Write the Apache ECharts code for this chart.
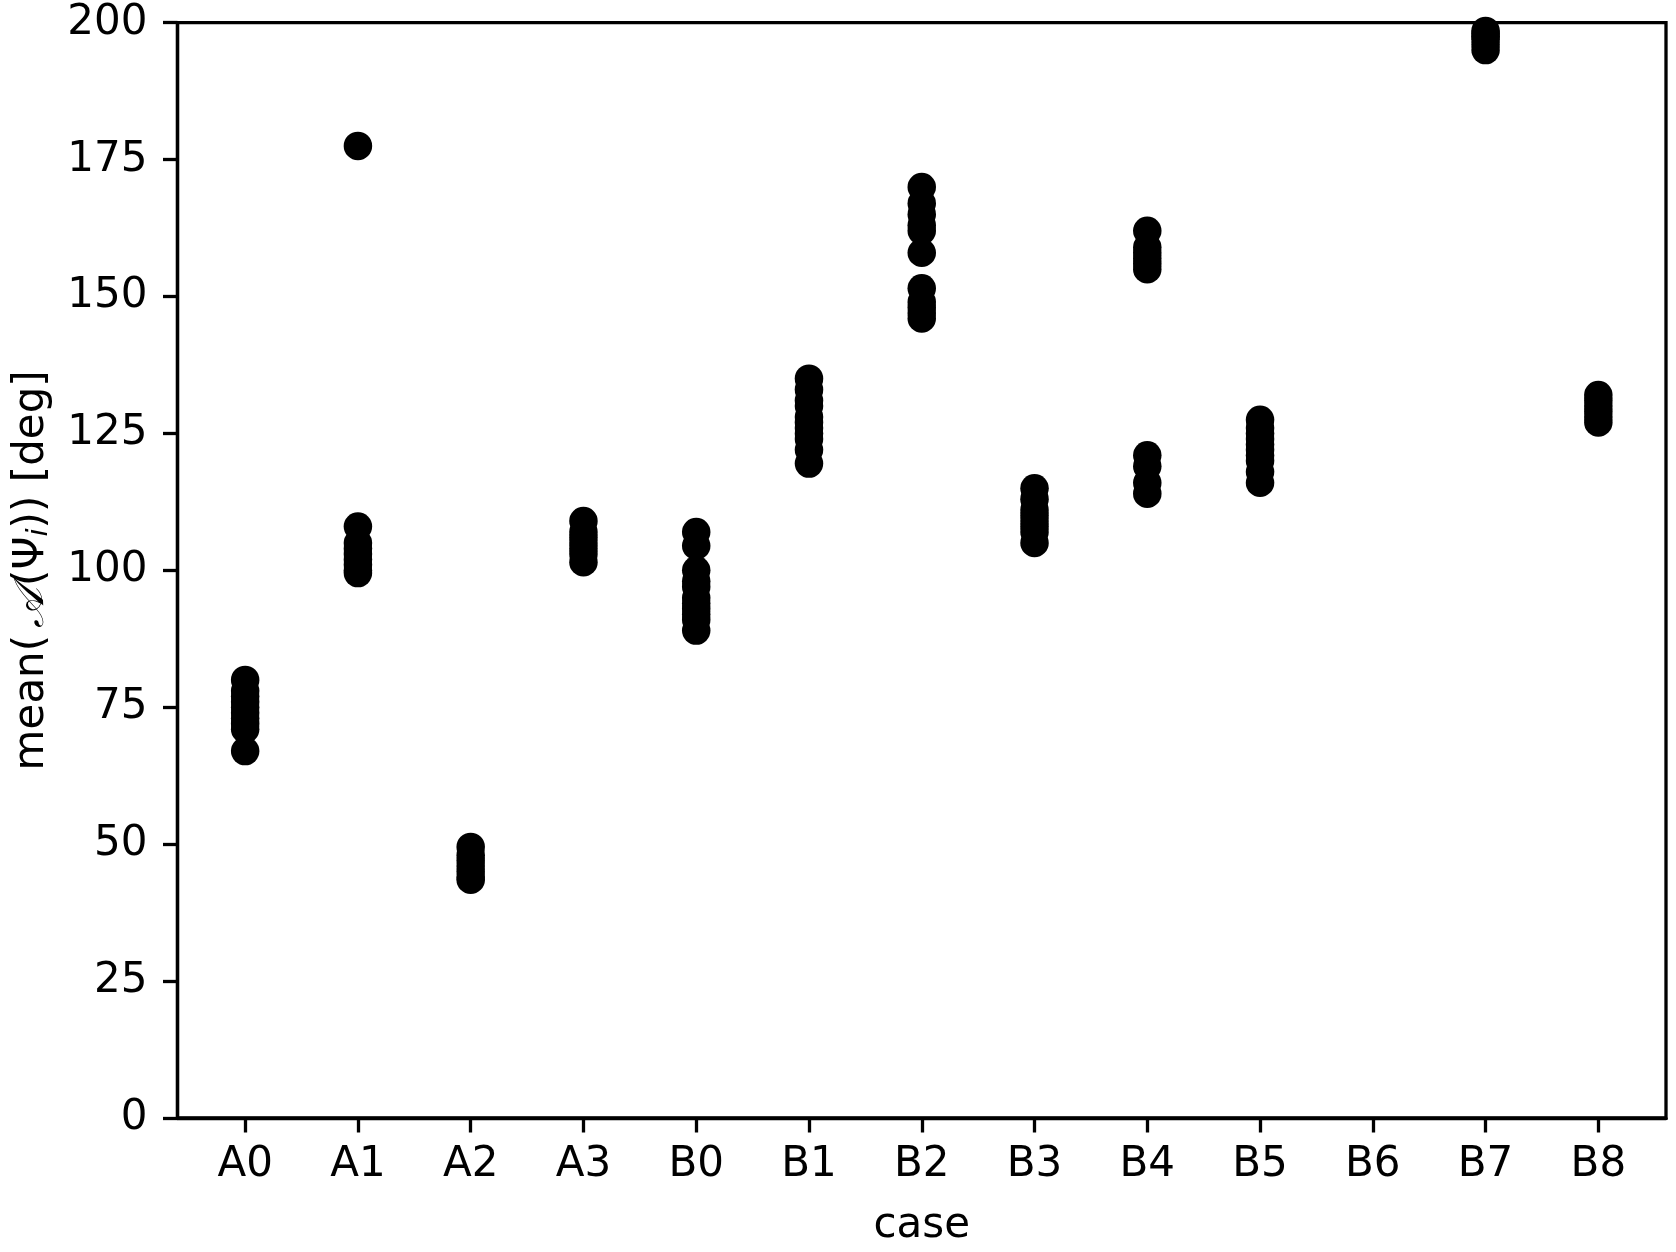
<!DOCTYPE html>
<html>
<head>
<meta charset="utf-8">
<script src="https://cdn.jsdelivr.net/npm/echarts@6/dist/echarts.min.js"></script>
<style>
html,body{margin:0;padding:0;background:#fff;}
#chart{width:1676px;height:1252px;}
</style>
</head>
<body>
<div id="chart"></div>
<script>
var categories = ['A0','A1','A2','A3','B0','B1','B2','B3','B4','B5','B6','B7','B8'];
var A0 = [80, 78, 77, 76, 75, 74, 73, 72, 71, 67];
var A1 = [177.5, 108, 105, 104, 103, 102, 101, 100, 99.5];
var A2 = [49.5, 48, 47, 46, 45, 44, 43.5];
var A3 = [109, 107, 106, 105, 104, 103, 101.5];
var B0 = [107, 104.5, 100, 98, 97, 95, 94, 93, 92, 91, 89];
var B1 = [135, 133, 131, 130, 128, 127, 126, 125, 124, 122, 119.5];
var B2 = [170, 167, 165, 163, 162, 158, 151.5, 149, 148, 147, 146];
var B3 = [115, 113, 111, 110, 109, 108, 107, 105];
var B4 = [162, 159, 158, 157, 156, 155, 121, 119, 116, 114];
var B5 = [127.5, 126, 125, 124, 123, 122, 121, 120, 118, 116];
var B6 = [];
var B7 = [198.5, 198, 197.5, 197, 196, 195];
var B8 = [132, 131, 130, 129, 128, 127];
var yTicks = [0, 25, 50, 75, 100, 125, 150, 175, 200];

var groups = [A0, A1, A2, A3, B0, B1, B2, B3, B4, B5, B6, B7, B8];
var points = [];
groups.forEach(function (g, i) {
  g.forEach(function (v) { points.push([i, v]); });
});
var catIdx = categories.map(function (c, i) { return i; });

var FONT = 'DejaVu Sans';
var FS = 42;
var LW = 3.3;
var chart = echarts.init(document.getElementById('chart'), null, {renderer: 'canvas'});
chart.setOption({
  backgroundColor: '#ffffff',
  animation: false,
  grid: {
    left: 177.5, right: 10, top: 22.7, bottom: 120.3,
    show: true, borderColor: '#000', borderWidth: LW, backgroundColor: 'transparent'
  },
  xAxis: {
    type: 'value', min: -0.6, max: 12.6,
    name: 'case', nameLocation: 'middle', nameGap: 87,
    nameTextStyle: {fontFamily: FONT, fontSize: FS, color: '#000'},
    splitLine: {show: false},
    axisLine: {show: true, onZero: false, lineStyle: {color: '#000', width: LW}},
    axisTick: {show: true, inside: false, length: 14.5, lineStyle: {color: '#000', width: LW}, customValues: catIdx},
    axisLabel: {
      show: true, margin: 26, fontFamily: FONT, fontSize: FS, color: '#000',
      customValues: catIdx,
      formatter: function (v) { return categories[Math.round(v)]; }
    }
  },
  yAxis: {
    type: 'value', min: 0, max: 200, interval: 25,
    name: '{n|mean(}{a|𝒜}{n|(Ψ}{s|i}{n|)) [deg]}',
    nameLocation: 'middle', nameGap: 124, nameRotate: 90,
    nameTextStyle: {
      fontFamily: FONT, fontSize: FS, color: '#000',
      rich: {
        n: {fontFamily: FONT, fontSize: FS, color: '#000'},
        a: {fontFamily: 'DejaVu Serif', fontStyle: 'italic', fontSize: FS, color: '#000', padding: [0, 2, 0, 7]},
        s: {fontFamily: FONT, fontStyle: 'italic', fontSize: 29, color: '#000', verticalAlign: 'bottom', padding: [14, 0, 0, 0]}
      }
    },
    splitLine: {show: false},
    axisLine: {show: true, onZero: false, lineStyle: {color: '#000', width: LW}},
    axisTick: {show: true, inside: false, length: 14.5, lineStyle: {color: '#000', width: LW}},
    axisLabel: {
      show: true, margin: 30, fontFamily: FONT, fontSize: FS, color: '#000',
      customValues: yTicks
    }
  },
  series: [{
    type: 'scatter',
    data: points,
    symbol: 'circle',
    symbolSize: 28.5,
    itemStyle: {color: '#000', opacity: 1},
    clip: true,
    emphasis: {disabled: true}
  }]
});
</script>
</body>
</html>
